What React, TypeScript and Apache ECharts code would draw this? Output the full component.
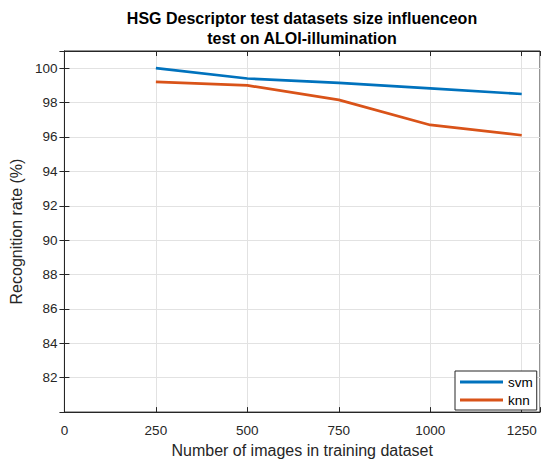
import React, { useEffect, useRef } from "react";
import * as echarts from "echarts";

const trainingSizes = [250, 500, 750, 1000, 1250];
const svmRates = [100.0, 99.4, 99.15, 98.83, 98.5];
const knnRates = [99.2, 99.0, 98.16, 96.7, 96.1];
const titleLines = ["HSG Descriptor test datasets size influenceon", "test on ALOI-illumination"];

const TXT = "#262626";
const FONT = "'Liberation Sans', Arial, sans-serif";

export default function App() {
  const ref = useRef<HTMLDivElement>(null);
  useEffect(() => {
    if (!ref.current) return;
    const chart = echarts.init(ref.current, undefined, { renderer: "svg" });
    const toPairs = (ys: number[]) => trainingSizes.map((x, i) => [x, ys[i]]);
    const hideX = (v: number) => (v === 1300 ? "" : String(v));
    const hideY = (v: number) => (v === 80 || v === 101 ? "" : String(v));
    chart.setOption({
      animation: false,
      backgroundColor: "#ffffff",
      textStyle: { fontFamily: FONT },
      graphic: [
        {
          type: "text",
          x: 302,
          y: 18,
          style: {
            text: titleLines[0],
            fill: "#000",
            font: `bold 16px ${FONT}`,
            textAlign: "center",
            textVerticalAlign: "middle",
          },
        },
        {
          type: "text",
          x: 302,
          y: 38,
          style: {
            text: titleLines[1],
            fill: "#000",
            font: `bold 16px ${FONT}`,
            textAlign: "center",
            textVerticalAlign: "middle",
          },
        },
      ],
      grid: {
        left: 64,
        right: 2,
        top: 51,
        bottom: 46,
        show: true,
        borderColor: TXT,
        borderWidth: 1,
        backgroundColor: "#fff",
      },
      legend: {
        left: 455,
        top: 371,
        orient: "vertical",
        icon: "rect",
        itemWidth: 43,
        itemHeight: 3,
        itemGap: 2,
        padding: [3, 4, 2, 5],
        backgroundColor: "#fff",
        borderColor: TXT,
        borderWidth: 1,
        borderRadius: 0,
        textStyle: { color: "#000", fontSize: 13.5, lineHeight: 16, fontFamily: FONT, padding: [0, 0, 0, 0] },
        data: ["svm", "knn"],
      },
      xAxis: [
        {
          type: "value",
          min: 0,
          max: 1300,
          interval: 250,
          position: "bottom",
          name: "Number of images in training dataset",
          nameLocation: "middle",
          nameGap: 29,
          nameTextStyle: { color: TXT, fontSize: 16, fontFamily: FONT },
          axisLine: { show: true, lineStyle: { color: TXT, width: 1 } },
          axisTick: { show: true, inside: true, length: 5, lineStyle: { color: TXT } },
          axisLabel: { color: TXT, fontSize: 13.5, margin: 11, formatter: hideX, fontFamily: FONT },
          splitLine: { show: true, lineStyle: { color: "#e2e2e2", width: 1 } },
        },
        {
          type: "value",
          min: 0,
          max: 1300,
          interval: 250,
          position: "top",
          axisLine: { show: true, lineStyle: { color: TXT, width: 1 } },
          axisTick: { show: true, inside: true, length: 5, lineStyle: { color: TXT } },
          axisLabel: { show: false },
          splitLine: { show: false },
        },
      ],
      yAxis: [
        {
          type: "value",
          min: 80,
          max: 101,
          interval: 2,
          position: "left",
          name: "Recognition rate (%)",
          nameLocation: "middle",
          nameGap: 30,
          nameTextStyle: { color: TXT, fontSize: 16, fontFamily: FONT },
          axisLine: { show: true, lineStyle: { color: TXT, width: 1 } },
          axisTick: { show: true, inside: true, length: 5, lineStyle: { color: TXT } },
          axisLabel: { color: TXT, fontSize: 13.5, margin: 7, formatter: hideY, fontFamily: FONT },
          splitLine: { show: true, lineStyle: { color: "#e2e2e2", width: 1 } },
        },
        {
          type: "value",
          min: 80,
          max: 101,
          interval: 2,
          position: "right",
          axisLine: { show: true, lineStyle: { color: TXT, width: 1 } },
          axisTick: { show: true, inside: true, length: 5, lineStyle: { color: TXT } },
          axisLabel: { show: false },
          splitLine: { show: false },
        },
      ],
      series: [
        {
          name: "svm",
          type: "line",
          data: toPairs(svmRates),
          showSymbol: false,
          symbol: "none",
          color: "#0072BD",
          lineStyle: { color: "#0072BD", width: 2.7 },
        },
        {
          name: "knn",
          type: "line",
          data: toPairs(knnRates),
          showSymbol: false,
          symbol: "none",
          color: "#D95319",
          lineStyle: { color: "#D95319", width: 2.7 },
        },
      ],
    });
    return () => chart.dispose();
  }, []);
  return (
    <div
      ref={ref}
      style={{ position: "fixed", left: 0, top: 0, width: 543, height: 463, background: "#fff" }}
    />
  );
}
